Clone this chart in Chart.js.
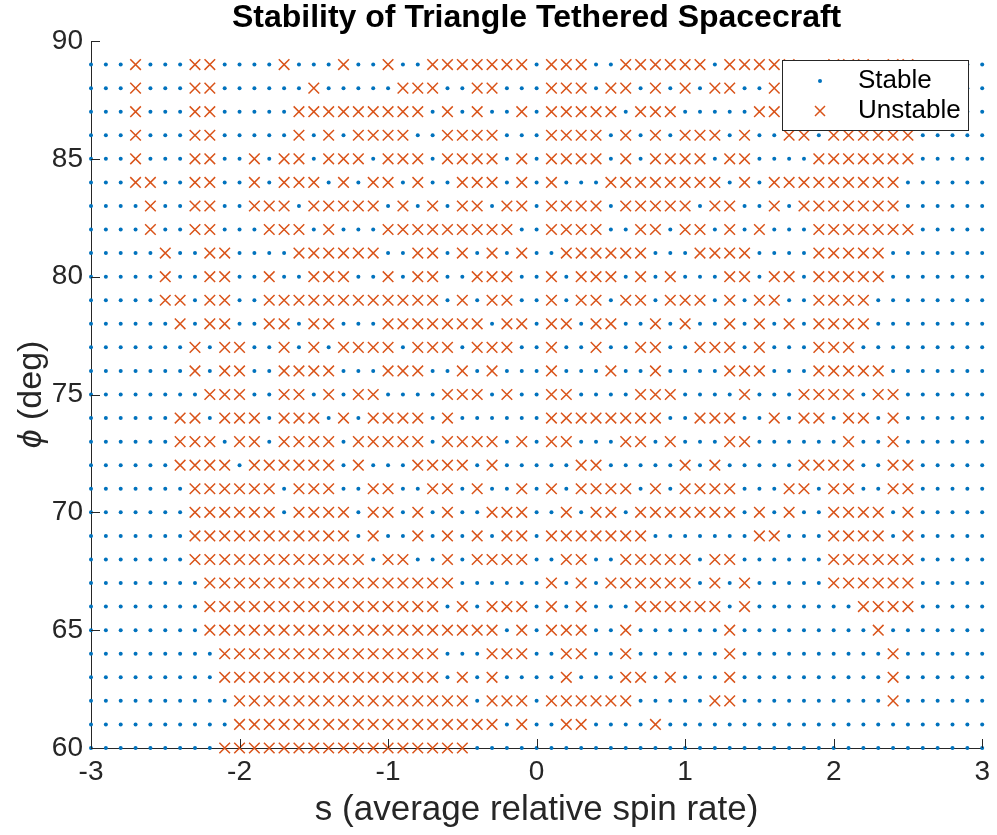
<!DOCTYPE html>
<html>
<head>
<meta charset="utf-8">
<title>Stability of Triangle Tethered Spacecraft</title>
<script src="https://cdn.jsdelivr.net/npm/chart.js@4.4.1/dist/chart.umd.min.js"></script>
<style>
  html, body { margin: 0; padding: 0; background: #fff; }
</style>
</head>
<body>
<canvas id="stability-chart" width="997" height="835"></canvas>
<script>
// s values (average relative spin rate), one per grid column
const sRate = [
  -3.0, -2.9, -2.8, -2.7, -2.6, -2.5, -2.4, -2.3, -2.2, -2.1,
  -2.0, -1.9, -1.8, -1.7, -1.6, -1.5, -1.4, -1.3, -1.2, -1.1,
  -1.0, -0.9, -0.8, -0.7, -0.6, -0.5, -0.4, -0.3, -0.2, -0.1,
   0.0,  0.1,  0.2,  0.3,  0.4,  0.5,  0.6,  0.7,  0.8,  0.9,
   1.0,  1.1,  1.2,  1.3,  1.4,  1.5,  1.6,  1.7,  1.8,  1.9,
   2.0,  2.1,  2.2,  2.3,  2.4,  2.5,  2.6,  2.7,  2.8,  2.9,
   3.0
];

// phi values (deg), one per grid row, top to bottom
const phiDeg = [89, 88, 87, 86, 85, 84, 83, 82, 81, 80, 79, 78, 77, 76, 75,
                74, 73, 72, 71, 70, 69, 68, 67, 66, 65, 64, 63, 62, 61, 60];

// stability per row: '.' = stable, 'x' = unstable (s = -3.0 ... 0.0 | 0.1 ... 3.0)
const stabilityRows = [
  "...x...xx....x...x..x..xxxxxxx. xxx..xxxxxx.xxxxx..xxx.xx.....",
  "...x...xx......x.....xxx..xx... xxx.xx.x.x.xx..xxx.x.xxxx.....",
  "...x...xx.....xxxxxxxxx.x.x..x. xxxxx.xxx.....xxx..xxxxx......",
  "...x...xx.....x.x.xxxx..xxxx... xxxx.x.x.xxx.x..xx.xxxxxx.....",
  "...x...xx..x.xx.xxx.xxx.xxxx.x. xxxx.x.xxxx.xx....xxxxxxx.....",
  "...xx..xx..x.xxx.x.xx.x..xxx.x. x...xxxxxxxx.x.xxxxxxxxx......",
  "....x..xx..xxx.xxxxx.x.x.xx.xx. xxxx.xxxxx.xx..x.xxxxxxx......",
  "....x..xx...xxx.x...xxxxxxxxx.. xxxx..xx.xx.x.x...xxxxxxx.....",
  ".....x..xx....xxxxxx..xx.x.x.x. .xxxxxx...xxxx....xxxxx.......",
  ".....x..xx..x..xxx..x.xx..xxx.. x.xxx.x.x...xx.xx.xxxxx.......",
  ".....xx.xx..xxxxxxxxxxxx.x.xx.. x.xx.xx.xxx.x.xx..xxxx........",
  "......x.xx..xx.xx...xxxxxxx.xx. xx.xx..x.x..x.x.x.xxxx........",
  ".......x.xx..x.x.xxxx.xxx.xxx.. x..x..xx..xxx.x...xxx.........",
  ".......x.xx..xxxx...xxx..x.x... x...x..x....xxx...xxxxx.......",
  "........xxx..xx.x.xx....xxx.x.. xx....xxx....x...xxxx.xx......",
  "......xx.xxx.xxx.x.xxxx.x...... xxxxxxxx..xxx..x.xx.xx.x......",
  "......xxx.xx.xxxx.xxxxx.xxxx.x. xx...xx.x...xx......x..x......",
  "......xxxx.xxxxxx.x...xxxx.x... ..xx.....x.x.....xxxx..xx.....",
  ".......xxxxxx.xxx..xx..xx.x..x. x.xxxx.x.xxxx...xx.xx..xx.....",
  ".......xxxxxx.xxxx.xx.x.x..xxx. .x.xx.xxxxxxx.x.x..xxxx.x.....",
  ".......xxxxxxxxxxx.x..x.x.x.xx. xxxxxxx.......xx...xxxx.x.....",
  ".......xxxxxxxxxxxx.xx..x.xxxx. .xx..xxxxx.xx......xxxxxx.....",
  "........xxxxxxxxxxxxxxxxx...... x.x.xxxxxx.x.x.....xxxxxx.....",
  "........xxxxxxxxxxxxxxxx.x.xxx. x.x...xxxxxx.x.......xxxx.....",
  "........xxxxxxxxxxxxxxxxxxxx.x. xxx..x......x.........x.......",
  ".........xxxxxxxxxxxxxxx...xxx. .xx..x......x..........x......",
  ".........xxxxxxxxxxxxxxx.x.x... .x...xx.x...x..........x......",
  "..........xxxxxxxxxxxxxxxx.xxx. xxxxxx.....xx..........x......",
  "..........xxxxxxxxxxxxxxxxxx.x. .xx....x......................",
  ".........xxxxxxxxxxxxxxxxx..... .............................."
];

const sTicks = [-3, -2, -1, 0, 1, 2, 3];
const phiTicks = [60, 65, 70, 75, 80, 85, 90];

const BLUE = "#0072BD";
const ORANGE = "#D95319";
const AXIS = "#262626";
const FONT = "'Liberation Sans', Arial, Helvetica, sans-serif";

// split the grid into the two series
const stablePts = [];
const unstablePts = [];
stabilityRows.forEach((row, r) => {
  const cells = row.replace(/ /g, "");
  if (cells.length !== sRate.length) console.warn("row", phiDeg[r], "has", cells.length, "cells");
  for (let c = 0; c < sRate.length; c++) {
    const pt = { x: sRate[c], y: phiDeg[r] };
    if (cells[c] === "x") unstablePts.push(pt);
    else stablePts.push(pt);
  }
});

// inward tick marks, titles and the boxed legend (drawn by hand, MATLAB style)
const matlabDecor = {
  id: "matlabDecor",
  afterDatasetsDraw(chart) {
    const { ctx, chartArea: area, scales: { x, y } } = chart;
    ctx.save();
    ctx.strokeStyle = AXIS;
    ctx.lineWidth = 1;
    ctx.beginPath();
    sTicks.forEach(v => {
      const px = Math.round(x.getPixelForValue(v)) + 0.5;
      ctx.moveTo(px, area.bottom);
      ctx.lineTo(px, area.bottom - 9);
    });
    phiTicks.forEach(v => {
      const py = Math.round(y.getPixelForValue(v)) + 0.5;
      ctx.moveTo(area.left, py);
      ctx.lineTo(area.left + 9, py);
    });
    ctx.stroke();
    ctx.restore();
  },
  afterDraw(chart) {
    const { ctx, chartArea: area } = chart;
    const cx = (area.left + area.right) / 2;
    ctx.save();
    ctx.fillStyle = "#000";
    ctx.textAlign = "center";
    ctx.textBaseline = "middle";

    // title
    ctx.font = "bold 32px " + FONT;
    ctx.fillText("Stability of Triangle Tethered Spacecraft", cx, 18);

    // x label
    ctx.fillStyle = AXIS;
    ctx.font = "35px " + FONT;
    ctx.fillText("s (average relative spin rate)", cx, 810);

    // y label: italic phi + (deg), rotated
    ctx.translate(32, (area.top + area.bottom) / 2);
    ctx.rotate(-Math.PI / 2);
    ctx.font = "italic 34px " + FONT;
    const phiW = ctx.measureText("\u03D5").width;
    ctx.font = "34px " + FONT;
    const restW = ctx.measureText(" (deg)").width;
    let start = -(phiW + restW) / 2;
    ctx.textAlign = "left";
    ctx.font = "italic 34px " + FONT;
    ctx.fillText("\u03D5", start, 0);
    ctx.font = "34px " + FONT;
    ctx.fillText(" (deg)", start + phiW, 0);
    ctx.restore();

    // legend box
    ctx.save();
    const lx = 782, ly = 60, lw = 186, lh = 70;
    ctx.fillStyle = "#fff";
    ctx.fillRect(lx, ly, lw, lh);
    ctx.strokeStyle = AXIS;
    ctx.lineWidth = 1;
    ctx.strokeRect(lx + 0.5, ly + 0.5, lw, lh);

    ctx.fillStyle = BLUE;
    ctx.beginPath();
    ctx.arc(820, 81, 2, 0, Math.PI * 2);
    ctx.fill();

    ctx.strokeStyle = ORANGE;
    ctx.lineWidth = 1.5;
    ctx.beginPath();
    ctx.moveTo(815, 106); ctx.lineTo(825, 116);
    ctx.moveTo(825, 106); ctx.lineTo(815, 116);
    ctx.stroke();

    ctx.fillStyle = "#000";
    ctx.font = "26px " + FONT;
    ctx.textAlign = "left";
    ctx.textBaseline = "middle";
    ctx.fillText("Stable", 858, 81);
    ctx.fillText("Unstable", 858, 111);
    ctx.restore();
  }
};

const stabilityChart = new Chart(document.getElementById("stability-chart"), {
  type: "scatter",
  data: {
    datasets: [
      {
        label: "Stable",
        data: stablePts,
        pointStyle: "circle",
        pointRadius: 2,
        pointBackgroundColor: BLUE,
        pointBorderWidth: 0,
        clip: false
      },
      {
        label: "Unstable",
        data: unstablePts,
        pointStyle: "crossRot",
        pointRadius: 7.5,
        pointBorderColor: ORANGE,
        pointBorderWidth: 1.5,
        clip: false
      }
    ]
  },
  options: {
    responsive: false,
    animation: false,
    events: [],
    layout: { padding: { top: 41, right: 12, left: 0, bottom: 0 } },
    plugins: {
      legend: { display: false },
      tooltip: { enabled: false },
      title: { display: false }
    },
    scales: {
      x: {
        type: "linear",
        min: -3,
        max: 3,
        afterBuildTicks: scale => { scale.ticks = sTicks.map(v => ({ value: v })); },
        ticks: {
          color: AXIS,
          font: { family: FONT, size: 28 },
          padding: 7,
          maxRotation: 0,
          callback: v => String(v)
        },
        grid: { display: false, drawTicks: false },
        border: { display: true, color: AXIS, width: 1 },
        afterFit: scale => { scale.height = 87; }
      },
      y: {
        type: "linear",
        min: 60,
        max: 90,
        afterBuildTicks: scale => { scale.ticks = phiTicks.map(v => ({ value: v })); },
        ticks: {
          color: AXIS,
          font: { family: FONT, size: 28 },
          padding: 8,
          callback: v => String(v)
        },
        grid: { display: false, drawTicks: false },
        border: { display: true, color: AXIS, width: 1 },
        afterFit: scale => { scale.height; scale.width = 91; }
      }
    }
  },
  plugins: [matlabDecor]
});
</script>
</body>
</html>
